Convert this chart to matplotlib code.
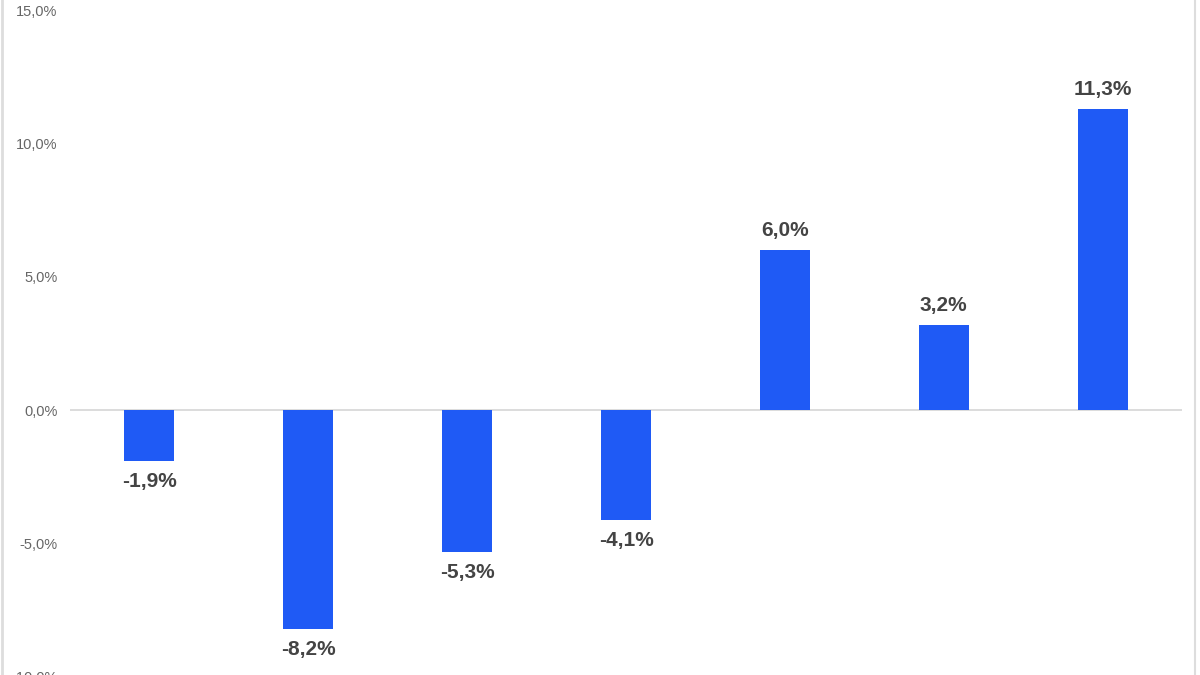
import matplotlib.pyplot as plt
from matplotlib.lines import Line2D

plt.rcParams['font.family'] = ['Liberation Sans', 'DejaVu Sans']

categories = ['A', 'B', 'C', 'D', 'E', 'F', 'G']
values = [-1.9, -8.2, -5.3, -4.1, 6.0, 3.2, 11.3]
yticks = [-10, -5, 0, 5, 10, 15]

def pct(v):
    return f"{v:.1f}%".replace('.', ',')

fig = plt.figure(figsize=(12, 6.75), dpi=100)
ax = fig.add_axes([70 / 1200, -2 / 675, 1112 / 1200, 667 / 675])

x = range(len(categories))
ax.bar(x, values, width=0.315, color='#1f5af5', zorder=3)
ax.axhline(0, color='#d6d6d6', lw=1.2, zorder=2)

ax.set_xlim(-0.5, len(categories) - 0.5)
ax.set_ylim(-10, 15)
ax.set_yticks(yticks)
ax.set_yticklabels([pct(t) for t in yticks])
ax.set_xticks([])
ax.tick_params(axis='y', length=0, pad=9, labelsize=10.5, labelcolor='#666666')
for s in ax.spines.values():
    s.set_visible(False)

for xi, v in zip(x, values):
    if v >= 0:
        ax.annotate(pct(v), (xi, v), xytext=(0, 7), textcoords='offset points',
                    ha='center', va='bottom', fontsize=15, fontweight='bold', color='#444444')
    else:
        ax.annotate(pct(v), (xi, v), xytext=(0, -8), textcoords='offset points',
                    ha='center', va='top', fontsize=15, fontweight='bold', color='#444444')

# thin frame lines at left and right edges
fig.add_artist(Line2D([2 / 1200, 2 / 1200], [0, 1], color='#dddddd', lw=2))
fig.add_artist(Line2D([1195 / 1200, 1195 / 1200], [0, 1], color='#dddddd', lw=1.5))

fig.savefig('out.png', dpi=100)
